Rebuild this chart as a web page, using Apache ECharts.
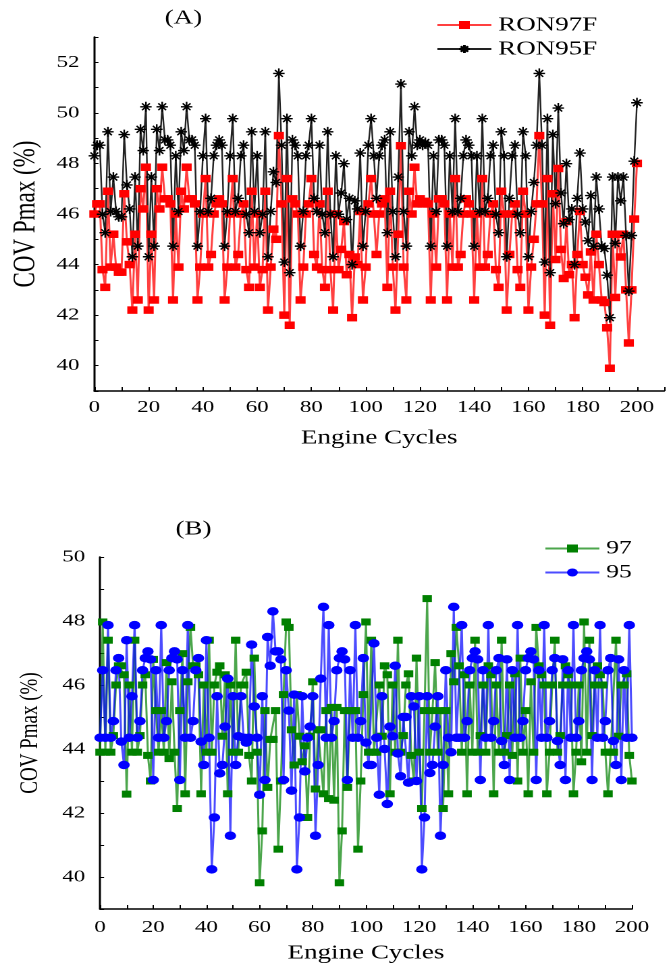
<!DOCTYPE html>
<html>
<head>
<meta charset="utf-8">
<script src="https://cdn.jsdelivr.net/npm/echarts@6/dist/echarts.min.js"></script>
<style>
  html, body { margin: 0; padding: 0; background: #fff; }
  #wrap { width: 671px; height: 964px; overflow: hidden; }
  /* the source picture is stretched sideways, so the chart is drawn narrow and widened */
  #main { width: 497px; height: 964px; transform: scaleX(1.35); transform-origin: 0 0; }
</style>
</head>
<body>
<div id="wrap"><div id="main"></div></div>
<script>
// (A) RON97F, one value per engine cycle 0..200
var ron97f = [
  46.0, 46.4, 46.4, 43.8, 43.1, 46.9, 43.9, 45.2, 43.9, 43.7,
  43.7, 46.8, 44.9, 44.0, 42.2, 45.2, 42.6, 47.0, 46.2, 47.85,
  42.2, 45.2, 42.6, 47.0, 46.2, 47.85, 46.6, 46.6, 46.4, 42.6,
  46.0, 43.9, 46.9, 46.2, 47.85, 46.6, 46.6, 46.4, 42.6, 43.9,
  46.0, 47.4, 43.9, 44.4, 46.0, 46.4, 46.6, 46.4, 42.6, 43.9,
  46.0, 47.4, 43.9, 44.4, 46.0, 46.4, 43.8, 43.1, 46.9, 43.9,
  46.0, 43.1, 43.8, 46.9, 42.2, 43.9, 45.4, 45.0, 49.1, 46.4,
  42.0, 47.4, 41.6, 46.6, 46.4, 46.0, 42.6, 43.9, 46.0, 46.4,
  47.4, 44.4, 43.9, 46.4, 43.8, 43.1, 46.9, 43.8, 42.2, 46.0,
  43.8, 44.6, 45.7, 43.6, 44.4, 41.9, 44.3, 44.0, 46.1, 42.6,
  43.9, 46.4, 47.4, 46.0, 44.4, 46.0, 46.4, 46.6, 43.1, 46.9,
  43.9, 42.2, 45.2, 48.7, 43.9, 42.6, 46.9, 46.0, 47.85, 46.4,
  46.6, 46.4, 46.5, 46.4, 42.6, 46.0, 43.9, 46.6, 46.6, 46.4,
  42.6, 46.0, 43.9, 47.4, 43.9, 44.4, 46.0, 46.6, 46.4, 46.0,
  42.6, 46.0, 43.9, 47.4, 43.9, 44.4, 46.0, 46.4, 43.8, 43.1,
  46.9, 46.0, 42.2, 44.4, 46.0, 46.4, 43.8, 43.1, 46.9, 46.0,
  42.2, 43.9, 45.0, 46.4, 49.1, 46.4, 42.0, 47.4, 41.6, 46.8,
  44.2, 47.8, 44.6, 43.45, 45.7, 43.6, 44.0, 41.9, 44.4, 46.1,
  44.0, 43.5, 42.8, 44.5, 42.6, 45.2, 44.0, 42.6, 42.5, 41.5,
  39.9, 45.2, 42.7, 45.2, 44.3, 45.2, 43.0, 40.9, 43.0, 45.8,
  48.0
];
// (A) RON95F
var ron95f = [
  48.3, 48.72, 48.72, 45.99, 45.26, 49.25, 46.1, 47.46, 46.1, 45.89,
  45.89, 49.14, 47.15, 46.2, 44.31, 47.46, 44.73, 49.35, 48.51, 50.24,
  44.31, 47.46, 44.73, 49.35, 48.51, 50.24, 48.93, 48.93, 48.72, 44.73,
  48.3, 46.1, 49.25, 48.51, 50.24, 48.93, 48.93, 48.72, 44.73, 46.1,
  48.3, 49.77, 46.1, 46.62, 48.3, 48.72, 48.93, 48.72, 44.73, 46.1,
  48.3, 49.77, 46.1, 46.62, 48.3, 48.72, 45.99, 45.26, 49.25, 46.1,
  48.3, 45.26, 45.99, 49.25, 44.31, 46.1, 47.67, 47.25, 51.56, 48.72,
  44.1, 49.77, 43.68, 48.93, 48.72, 48.3, 44.73, 46.1, 48.3, 48.72,
  49.77, 46.62, 46.1, 48.72, 45.99, 45.26, 49.25, 45.99, 44.31, 48.3,
  45.99, 46.83, 47.99, 45.78, 46.62, 44.0, 46.52, 46.2, 48.41, 44.73,
  46.1, 48.72, 49.77, 48.3, 46.62, 48.3, 48.72, 48.93, 45.26, 49.25,
  46.1, 44.31, 47.46, 51.14, 46.1, 44.73, 49.25, 48.3, 50.24, 48.72,
  48.93, 48.72, 48.83, 48.72, 44.73, 48.3, 46.1, 48.93, 48.93, 48.72,
  44.73, 48.3, 46.1, 49.77, 46.1, 46.62, 48.3, 48.93, 48.72, 48.3,
  44.73, 48.3, 46.1, 49.77, 46.1, 46.62, 48.3, 48.72, 45.99, 45.26,
  49.25, 48.3, 44.31, 46.62, 48.3, 48.72, 45.99, 45.26, 49.25, 48.3,
  44.31, 46.1, 47.25, 48.72, 51.56, 48.72, 44.1, 49.77, 43.68, 49.14,
  46.41, 50.19, 46.83, 45.62, 47.99, 45.78, 46.2, 44.0, 46.62, 48.41,
  46.2, 45.68, 44.94, 46.73, 44.73, 47.46, 46.2, 44.73, 44.63, 43.58,
  41.9, 47.46, 44.84, 47.46, 46.52, 47.46, 45.15, 42.95, 45.15, 48.09,
  50.4
];
// (B) 97
var b97 = [
  43.9, 47.97, 43.9, 47.4, 43.9, 44.42, 46.0, 46.6, 46.6, 46.32,
  42.59, 46.0, 43.9, 47.4, 43.9, 44.42, 46.0, 46.32, 43.8, 43.0,
  46.8, 45.2, 43.9, 45.2, 43.9, 46.7, 43.7, 46.1, 43.9, 42.14,
  45.2, 46.98, 42.6, 46.1, 47.8, 46.6, 46.6, 46.32, 42.6, 46.0,
  43.9, 47.4, 43.9, 46.0, 46.4, 46.6, 44.4, 46.32, 42.6, 46.0,
  43.9, 47.4, 43.9, 46.0, 46.0, 46.4, 43.8, 43.0, 46.84, 43.9,
  39.82, 41.44, 45.2, 42.8, 44.3, 44.3, 45.2, 40.87, 43.0, 45.7,
  47.97, 47.8, 44.6, 43.5, 45.7, 44.4, 43.6, 44.1, 41.86, 44.4,
  46.1, 42.75, 44.6, 44.6, 42.6, 45.2, 42.45, 45.3, 42.4, 45.3,
  39.82, 41.44, 45.2, 42.8, 45.2, 45.2, 45.2, 40.87, 43.0, 45.7,
  47.97, 43.9, 47.4, 43.9, 43.9, 46.0, 44.4, 46.6, 46.32, 42.6,
  46.0, 43.9, 47.4, 43.9, 44.42, 46.0, 46.35, 43.8, 43.0, 46.84,
  43.9, 42.14, 45.2, 48.7, 43.9, 45.2, 46.7, 43.9, 45.2, 42.14,
  45.2, 42.6, 46.98, 46.1, 47.8, 46.6, 43.9, 46.32, 42.6, 46.0,
  43.9, 47.4, 43.9, 44.42, 46.0, 43.9, 46.6, 46.32, 42.6, 46.0,
  43.9, 47.4, 43.9, 44.42, 46.0, 43.8, 46.35, 43.0, 46.84, 43.9,
  45.2, 42.6, 46.1, 43.9, 47.8, 46.6, 46.32, 46.0, 42.6, 43.9,
  46.0, 47.4, 43.9, 44.42, 46.0, 46.6, 46.32, 46.0, 42.6, 43.9,
  46.0, 43.6, 47.97, 43.9, 47.4, 44.42, 46.0, 46.6, 46.32, 46.0,
  43.9, 42.6, 43.9, 43.9, 47.4, 44.4, 46.0, 46.0, 46.35, 43.8,
  43.0
];
// (B) 95
var b95 = [
  44.35, 46.46, 44.35, 47.87, 44.35, 44.87, 46.46, 46.84, 44.23, 43.5,
  47.4, 44.35, 45.65, 47.87, 44.35, 44.87, 46.46, 46.84, 47.05, 46.8,
  43.03, 46.46, 44.35, 47.87, 44.35, 44.87, 46.46, 46.84, 47.05, 46.8,
  43.03, 46.46, 44.35, 47.87, 44.35, 44.87, 46.46, 46.84, 44.23, 43.5,
  47.4, 44.35, 40.24, 41.86, 45.65, 43.24, 43.5, 44.7, 46.2, 41.29,
  45.65, 43.5, 44.4, 45.65, 44.35, 44.2, 44.35, 47.26, 45.33, 44.35,
  42.57, 45.65, 43.03, 47.5, 46.6, 48.3, 47.05, 47.05, 46.8, 43.03,
  46.46, 45.2, 42.7, 45.7, 40.24, 41.86, 45.65, 43.3, 44.35, 44.7,
  45.65, 41.29, 43.5, 46.2, 48.44, 44.35, 47.87, 44.35, 44.87, 46.46,
  46.84, 47.05, 46.8, 43.03, 46.46, 44.35, 47.87, 44.35, 44.87, 46.84,
  44.2, 43.5, 43.5, 47.3, 44.35, 42.57, 45.65, 44.0, 42.28, 44.7,
  44.4, 46.6, 43.86, 43.15, 45.0, 45.0, 42.95, 45.65, 45.33, 43.0,
  45.65, 40.24, 41.86, 45.65, 43.25, 43.5, 44.7, 45.65, 41.29, 43.5,
  46.46, 44.35, 43.9, 48.44, 44.35, 44.35, 47.87, 44.35, 44.87, 46.46,
  46.84, 47.05, 46.8, 43.03, 46.46, 44.35, 47.87, 44.35, 44.87, 46.46,
  46.84, 44.25, 43.5, 46.8, 43.03, 46.46, 44.35, 47.87, 44.35, 44.87,
  46.46, 46.84, 47.05, 46.8, 43.03, 46.46, 44.35, 47.87, 44.35, 44.87,
  46.46, 46.84, 44.25, 43.5, 46.8, 43.03, 46.46, 44.35, 47.87, 44.35,
  44.87, 46.46, 46.84, 47.05, 46.8, 43.03, 46.46, 44.35, 47.87, 44.35,
  44.87, 46.46, 46.84, 44.25, 43.5, 46.8, 43.03, 46.46, 44.35, 47.87,
  44.35
];

var font = 'Liberation Serif, Times New Roman, serif';
var star = 'path://M5,0L5,10M0,5L10,5M1.6,1.6L8.4,8.4M1.6,8.4L8.4,1.6';

// pair each value with its cycle number
function toPoints(arr) {
  let out = [];
  for (let i = 0; i < arr.length; i++) out.push([i, arr[i]]);
  return out;
}

function evenOnly(v) { return v % 2 === 0 ? v : ''; }
function every20(v) { return v % 20 === 0 ? v : ''; }

function xAxisOf(idx, max, gap, lblMargin) {
  return {
    gridIndex: idx, type: 'value', min: 0, max: max, interval: 10,
    name: 'Engine Cycles', nameLocation: 'middle', nameGap: gap,
    nameTextStyle: { fontFamily: font, fontSize: 20, color: '#000' },
    axisLine: { lineStyle: { color: '#000', width: 1.5 } },
    axisTick: { inside: true, length: 4, lineStyle: { color: '#000' } },
    axisLabel: { formatter: every20, fontFamily: font, fontSize: 17, color: '#000', margin: lblMargin },
    splitLine: { show: false }
  };
}

function yAxisOf(idx, min, max, gap, nameSize) {
  return {
    gridIndex: idx, type: 'value', min: min, max: max, interval: 1,
    name: 'COV Pmax (%)', nameLocation: 'middle', nameGap: gap,
    nameTextStyle: { fontFamily: font, fontSize: nameSize, color: '#000' },
    axisLine: { show: true, lineStyle: { color: '#000', width: 1.5 } },
    axisTick: { inside: true, length: 3, lineStyle: { color: '#000' } },
    axisLabel: { formatter: evenOnly, fontFamily: font, fontSize: 17, color: '#000', margin: 11 },
    splitLine: { show: false }
  };
}

let myChart = echarts.init(document.getElementById('main'), null, { devicePixelRatio: 2 });
myChart.setOption({
  animation: false,
  backgroundColor: '#fff',
  title: [
    { text: '(A)', left: 122, top: 8, padding: 0, textStyle: { fontFamily: font, fontSize: 20, fontWeight: 'normal', color: '#000' } },
    { text: '(B)', left: 130, top: 519, padding: 0, textStyle: { fontFamily: font, fontSize: 20, fontWeight: 'normal', color: '#000' } }
  ],
  legend: [
    {
      data: ['RON97F', 'RON95F'], orient: 'vertical', left: 323, top: 15, itemGap: 4,
      itemWidth: 40, itemHeight: 10, padding: 0,
      textStyle: { fontFamily: font, fontSize: 20, color: '#000' }
    },
    {
      data: ['97', '95'], orient: 'vertical', left: 403, top: 539, itemGap: 5,
      itemWidth: 40, itemHeight: 10, padding: 0,
      textStyle: { fontFamily: font, fontSize: 19, color: '#000' }
    }
  ],
  grid: [
    { left: 65.2, right: 5.1, top: 37, bottom: 573 },
    { left: 74.1, right: 28.9, top: 557, bottom: 55 }
  ],
  xAxis: [xAxisOf(0, 210, 37, 8), xAxisOf(1, 200, 34, 10)],
  yAxis: [yAxisOf(0, 39, 53, 36, 23), yAxisOf(1, 39, 50, 42, 19)],
  series: [
    {
      name: 'RON97F', type: 'line', xAxisIndex: 0, yAxisIndex: 0,
      data: toPoints(ron97f), symbol: 'rect', symbolSize: 7.5,
      itemStyle: { color: '#ff0000' },
      lineStyle: { color: 'rgba(255,0,0,0.75)', width: 1.5 }
    },
    {
      name: 'RON95F', type: 'line', xAxisIndex: 0, yAxisIndex: 0,
      data: toPoints(ron95f), symbol: star, symbolSize: [8.5, 10],
      itemStyle: { color: '#000', borderColor: '#000', borderWidth: 1.3 },
      lineStyle: { color: '#222', width: 1.2 }
    },
    {
      name: '97', type: 'line', xAxisIndex: 1, yAxisIndex: 1,
      data: toPoints(b97), symbol: 'rect', symbolSize: 7,
      itemStyle: { color: '#008000' },
      lineStyle: { color: 'rgba(0,128,0,0.7)', width: 1.5 }
    },
    {
      name: '95', type: 'line', xAxisIndex: 1, yAxisIndex: 1,
      data: toPoints(b95), symbol: 'circle', symbolSize: 8.5,
      itemStyle: { color: '#0000ff' },
      lineStyle: { color: 'rgba(0,0,255,0.7)', width: 1.5 }
    }
  ]
});
</script>
</body>
</html>
